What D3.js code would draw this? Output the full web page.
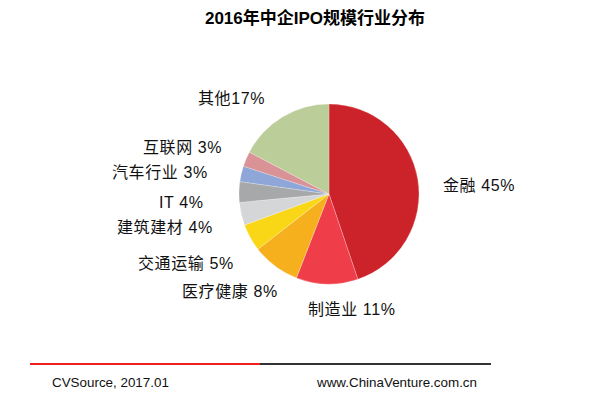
<!DOCTYPE html>
<html><head><meta charset="utf-8">
<script src="https://cdn.jsdelivr.net/npm/d3@7"></script>
<style>body{margin:0;background:#fff}svg{display:block}</style>
</head><body>
<svg id="c" width="610" height="397"></svg>
<script>
const title = "2016年中企IPO规模行业分布";
const categories = ["金融","制造业","医疗健康","交通运输","建筑建材","IT","汽车行业","互联网","其他"];
const values = [44.8, 11.1, 8.6, 4.9, 4.1, 3.7, 2.8, 2.7, 17.3];
const pctLabels = ["45%","11%","8%","5%","4%","4%","3%","3%","17%"];
const colors = ["#cc2229","#ef3e4a","#f6b01e","#f9d616","#d5d6d8","#a7a8aa","#8ea7d8","#d99295","#bbcd99"];
const source = "CVSource, 2017.01";
const site = "www.ChinaVenture.com.cn";

// label layout (left x, vertical centre) as placed in the original
const labelPos = [[443,185],[308,309],[182,291],[138,263],[117,227],[159,202],[112,172],[143,147],[198,98]];

const svg = d3.select("#c");
const cx = 329, cy = 194, r = 90;
const FF = "'Liberation Sans', Arial, 'Noto Sans CJK SC', sans-serif";

svg.append("text").attr("x", 315).attr("y", 24).attr("text-anchor","middle")
  .attr("font-family", FF).attr("font-weight","bold").attr("font-size", 17).attr("fill","#000").text(title);

const pie = d3.pie().sort(null).value(d => d)(values);
const arc = d3.arc().innerRadius(0).outerRadius(r);
const g = svg.append("g").attr("transform", `translate(${cx},${cy})`);
g.selectAll("path").data(pie).join("path")
  .attr("d", arc).attr("fill", (d,i) => colors[i])
  .attr("stroke", "#fff").attr("stroke-width", 0.4).attr("stroke-opacity", 0.6);

svg.selectAll("text.lab").data(categories).join("text").attr("class","lab")
  .attr("x", (d,i) => labelPos[i][0]).attr("y", (d,i) => labelPos[i][1])
  .attr("dominant-baseline","central")
  .attr("font-family", FF).attr("font-size", 16).attr("letter-spacing", 0.6).attr("fill","#111")
  .text((d,i) => d + (i === categories.length - 1 ? "" : " ") + pctLabels[i]);

svg.append("line").attr("x1",30).attr("x2",260).attr("y1",364).attr("y2",364).attr("stroke","#f01e1e").attr("stroke-width",2);
svg.append("line").attr("x1",260).attr("x2",491).attr("y1",364).attr("y2",364).attr("stroke","#333").attr("stroke-width",2);

svg.append("text").attr("x",52).attr("y",387).attr("font-family",FF).attr("font-size",13.4).attr("fill","#111").text(source);
svg.append("text").attr("x",477).attr("y",387).attr("text-anchor","end").attr("font-family",FF).attr("font-size",13.4).attr("fill","#111").text(site);
</script>
</body></html>
